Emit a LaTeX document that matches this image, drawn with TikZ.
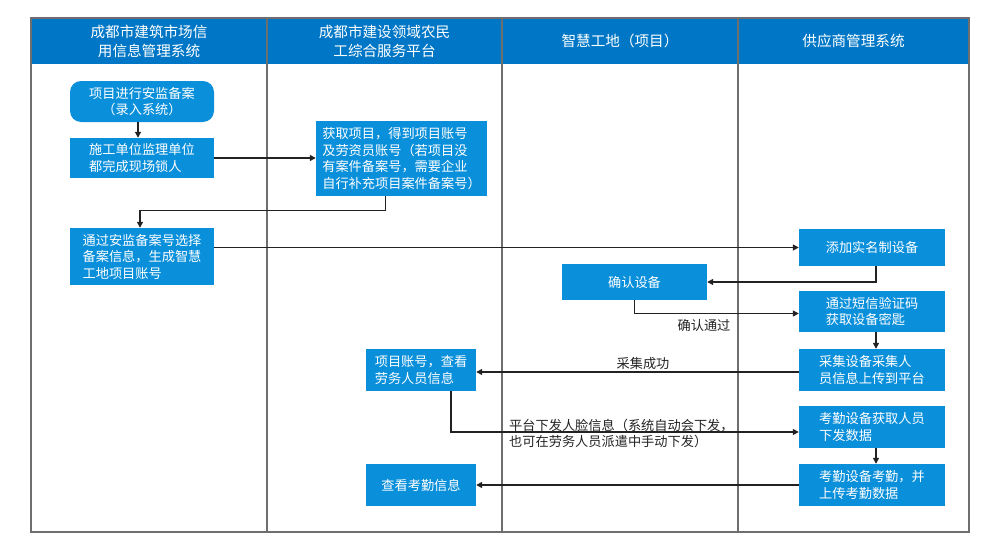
\documentclass[tikz,border=0pt]{standalone}
\usepackage{fontspec}
\setmainfont{Noto Sans CJK SC}
\usetikzlibrary{arrows.meta,calc}
\definecolor{hdr}{HTML}{0077C6}
\definecolor{bx}{HTML}{0A8FDB}
\definecolor{grid}{HTML}{6E6E6E}
\definecolor{txt}{HTML}{222222}
\tikzset{
  stepbox/.style={fill=bx, draw=none, text=white, align=left, inner sep=2pt,
    font=\fontsize{13.2}{16.5}\selectfont},
  roundbox/.style={stepbox, rounded corners=11pt, align=center},
  hdrtext/.style={text=white, align=center, font=\fontsize{14.6}{19}\selectfont},
  arr/.style={draw=txt, line width=1.4pt, -{Triangle[length=6pt,width=6pt]}},
  lbl/.style={text=txt, font=\fontsize{13.2}{16.5}\selectfont, inner sep=0pt},
  gridline/.style={draw=grid, line width=1.3pt}
}
\begin{document}
\begin{tikzpicture}[x=1pt,y=-1pt]
\useasboundingbox (0,0) rectangle (1000,551);
% header band
\fill[hdr] (31,18) rectangle (969,64);
% frame and dividers
\draw[gridline] (31,18) rectangle (969,532);
\foreach \xx in {267,502,738} \draw[gridline] (\xx,18) -- (\xx,532);
% header texts
\node[hdrtext] (h1) at (149,41) {成都市建筑市场信\\用信息管理系统};
\node[hdrtext] (h2) at (384.5,41) {成都市建设领域农民\\工综合服务平台};
\node[hdrtext] (h3) at (620,41) {智慧工地（项目）};
\node[hdrtext] (h4) at (853.5,41) {供应商管理系统};
% boxes
\node[roundbox, minimum width=144pt, minimum height=41pt] (n1) at (142,101.5) {项目进行安监备案\\（录入系统）};
\node[stepbox, minimum width=144pt, minimum height=40pt] (n2) at (142,158) {施工单位监理单位\\都完成现场锁人};
\node[stepbox, minimum width=171pt, minimum height=75pt] (n3) at (401.5,158.5) {获取项目，得到项目账号\\及劳资员账号（若项目没\\有案件备案号，需要企业\\自行补充项目案件备案号）};
\node[stepbox, minimum width=144pt, minimum height=57pt] (n4) at (142,256.5) {通过安监备案号选择\\备案信息，生成智慧\\工地项目账号};
\node[stepbox, minimum width=146pt, minimum height=37pt, align=center] (n5) at (872,247.5) {添加实名制设备};
\node[stepbox, minimum width=145pt, minimum height=36pt, align=center] (n6) at (634.5,282) {确认设备};
\node[stepbox, minimum width=146pt, minimum height=41pt] (n7) at (872,311.5) {通过短信验证码\\获取设备密匙};
\node[stepbox, minimum width=146pt, minimum height=42pt] (n8) at (872,370) {采集设备采集人\\员信息上传到平台};
\node[stepbox, minimum width=110pt, minimum height=42pt] (n9) at (421,370) {项目账号，查看\\劳务人员信息};
\node[stepbox, minimum width=146pt, minimum height=42pt] (n10) at (872,427) {考勤设备获取人员\\下发数据};
\node[stepbox, minimum width=146pt, minimum height=42pt] (n11) at (872,485) {考勤设备考勤，并\\上传考勤数据};
\node[stepbox, minimum width=110pt, minimum height=42pt, align=center] (n12) at (421,485) {查看考勤信息};
% connectors
\draw[arr] ([xshift=-4pt]n1.south) -- ([xshift=-4pt]n2.north);
\draw[arr] (n2.east) -- (n2.east -| n3.west);
\draw[arr] ([xshift=-16pt]n3.south) -- ++(0,14) -| ([xshift=-2pt]n4.north);
\draw[arr] (n5.west -| n4.east) -- (n5.west);
\draw[arr] ([xshift=4pt]n5.south) |- (n6.east);
\draw[arr] (n6.south) |- ([yshift=-2pt]n7.west);
\node[lbl] (l1) at (704,325) {确认通过};
\draw[arr] ([xshift=4pt]n7.south) -- ([xshift=4pt]n8.north);
\draw[arr] ([yshift=-2pt]n8.west) -- ([yshift=-2pt]n8.west -| n9.east);
\node[lbl] (l2) at (643,364) {采集成功};
\draw[arr] ([xshift=30pt]n9.south) |- ([yshift=-5pt]n10.west);
\node[lbl, anchor=west, align=left] (l3) at (509,433.5) {平台下发人脸信息（系统自动会下发，\\也可在劳务人员派遣中手动下发）};
\draw[arr] ([xshift=4pt]n10.south) -- ([xshift=4pt]n11.north);
\draw[arr] (n11.west) -- (n11.west -| n12.east);
\end{tikzpicture}
\end{document}
